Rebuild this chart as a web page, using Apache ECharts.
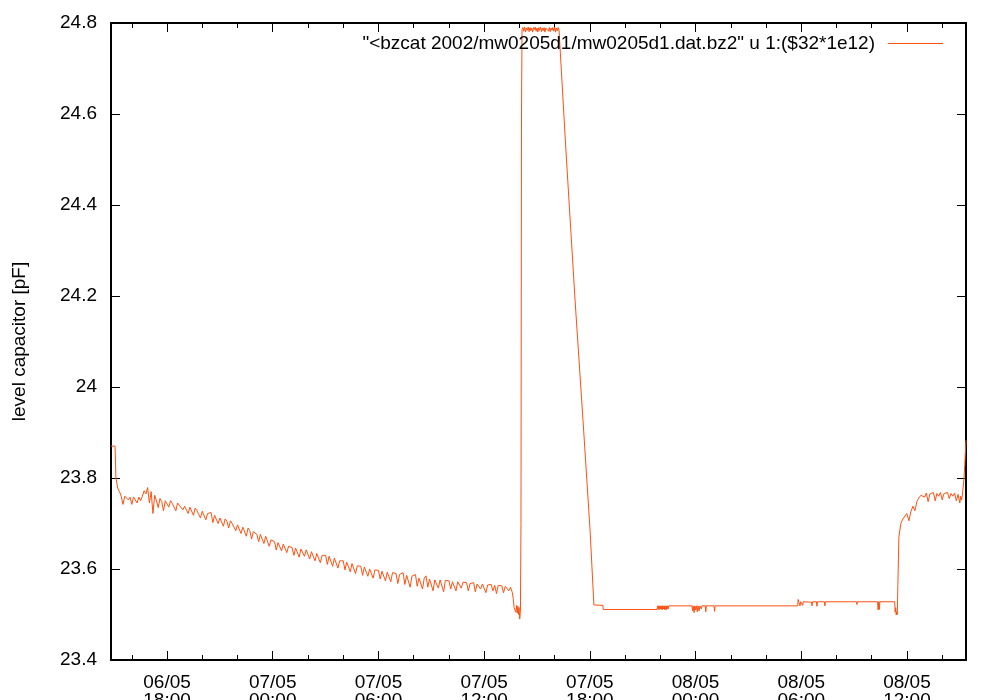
<!DOCTYPE html>
<html><head><meta charset="utf-8">
<script src="https://cdn.jsdelivr.net/npm/echarts@6/dist/echarts.min.js"></script>
<style>html,body{margin:0;padding:0;background:#fff}#c{width:1000px;height:700px}</style>
</head><body><div id="c"></div>
<script>
// ---- data (hours counted from 06/05/2002 00:00, value in pF) ----
const seriesName = '"<bzcat 2002/mw0205d1/mw0205d1.dat.bz2" u 1:($32*1e12)';
const yAxisTitle = 'level capacitor [pF]';
const xRangeHours = [14.82, 63.35];
const majorTickHours = [18, 24, 30, 36, 42, 48, 54, 60];
const minorTickHours = [16, 20, 22, 26, 28, 32, 34, 38, 40, 44, 46, 50, 52, 56, 58, 62];
const yMin = 23.4, yMax = 24.8, yStep = 0.2;

const declineSeg = [
[14.82,23.870],[15.05,23.870],[15.10,23.800],[15.20,23.778],[15.30,23.770],[15.40,23.760],[15.50,23.742],[15.60,23.760],
[15.7,23.758],[15.8,23.752],[15.9,23.758],[16.0,23.742],[16.1,23.758],[16.2,23.756],[16.3,23.745],[16.4,23.758],[16.5,23.750],[16.6,23.760],
[16.7,23.772],[16.8,23.765],[16.9,23.779],[17.0,23.745],[17.1,23.770],[17.2,23.722],[17.3,23.762],[17.4,23.750],[17.5,23.735],[17.6,23.755],
[17.7,23.748],[17.8,23.728],[17.9,23.750],[18.0,23.748],[18.1,23.736],[18.2,23.750],[18.3,23.744],[18.4,23.746],[18.5,23.728],[18.6,23.745],
[18.7,23.740],[18.8,23.744],[18.9,23.730],[19.0,23.738],[19.1,23.740],[19.2,23.722],[19.3,23.736],[19.4,23.732],[19.5,23.718],[19.6,23.734],
[19.7,23.728],[19.8,23.730],[19.9,23.712],[20.0,23.727],[20.1,23.724],[20.2,23.708],[20.3,23.722],[20.4,23.718],[20.5,23.724],[20.6,23.702],
[20.7,23.718],[20.8,23.714],[20.9,23.700],[21.0,23.712],[21.1,23.710],[21.2,23.694],[21.3,23.710],[21.4,23.705],[21.5,23.690],[21.6,23.706],
[21.7,23.700],[21.8,23.702],[21.9,23.684],[22.0,23.697],[22.1,23.694],[22.2,23.678],[22.3,23.692],[22.4,23.688],[22.5,23.672],[22.6,23.690],
[22.7,23.684],[22.8,23.666],[22.9,23.682],[23.0,23.680],[23.1,23.676],[23.2,23.660],[23.3,23.676],[23.4,23.672],[23.5,23.656],[23.6,23.672],
[23.7,23.668],[23.8,23.650],[23.9,23.664],[24.0,23.662],[24.1,23.660],[24.2,23.642],[24.3,23.658],[24.4,23.656],[24.5,23.640],[24.6,23.655],
[24.7,23.652],[24.8,23.636],[24.9,23.650],[25.0,23.650],[25.1,23.647],[25.2,23.630],[25.3,23.646],[25.4,23.644],[25.5,23.626],[25.6,23.644],
[25.7,23.641],[25.8,23.628],[25.9,23.642],[26.0,23.640],[26.1,23.622],[26.2,23.638],[26.3,23.636],[26.4,23.618],[26.5,23.634],[26.6,23.632],
[26.7,23.614],[26.8,23.630],[26.9,23.628],[27.0,23.630],[27.1,23.610],[27.2,23.628],[27.3,23.624],[27.4,23.606],[27.5,23.624],[27.6,23.620],
[27.7,23.602],[27.8,23.618],[27.9,23.616],[28.0,23.618],[28.1,23.598],[28.2,23.615],[28.3,23.612],[28.4,23.594],[28.5,23.612],[28.6,23.608],
[28.7,23.590],[28.8,23.607],[28.9,23.604],[29.0,23.606],[29.1,23.586],[29.2,23.604],[29.3,23.600],[29.4,23.584],[29.5,23.600],[29.6,23.598],
[29.7,23.580],[29.8,23.598],[29.9,23.596],[30.0,23.597],[30.1,23.578],[30.2,23.595],[30.3,23.592],[30.4,23.574],[30.5,23.593],[30.6,23.590],
[30.7,23.572],[30.8,23.592],[30.9,23.588],[31.0,23.590],[31.1,23.568],[31.2,23.588],[31.3,23.584],[31.4,23.592],[31.5,23.566],[31.6,23.586],
[31.7,23.582],[31.8,23.560],[31.9,23.584],[32.0,23.582],[32.1,23.588],[32.2,23.562],[32.3,23.580],[32.4,23.578],[32.5,23.556],[32.6,23.580],
[32.7,23.585],[32.8,23.560],[32.9,23.578],[33.0,23.578],[33.1,23.552],[33.2,23.576],[33.3,23.580],[33.4,23.558],[33.5,23.576],[33.6,23.574],
[33.7,23.550],[33.8,23.575],[33.9,23.574],[34.0,23.574],[34.1,23.556],[34.2,23.572],[34.3,23.574],[34.4,23.552],[34.5,23.572],[34.6,23.570],
[34.7,23.558],[34.8,23.571],[34.9,23.570],[35.0,23.570],[35.1,23.552],[35.2,23.568],[35.3,23.566],[35.4,23.570],[35.5,23.550],[35.6,23.567],
[35.7,23.566],[35.8,23.556],[35.9,23.567],[36.0,23.566],[36.1,23.548],[36.2,23.565],[36.3,23.564],[36.4,23.566],[36.5,23.552],[36.6,23.564],
[36.7,23.546],[36.8,23.564],[36.9,23.563],[37.0,23.563],[37.1,23.548],[37.2,23.562],[37.3,23.566],[37.4,23.552],[37.5,23.560],[37.6,23.548],
[37.65,23.535],[37.70,23.515],[37.75,23.512],[37.80,23.505],[37.85,23.520],[37.88,23.503],[37.92,23.518],[37.95,23.500],[37.98,23.515],
[38.02,23.490],[38.06,23.510]
];
const peakSeg = [
[38.09,23.700],[38.12,24.600],[38.15,24.785],
[38.20,24.790],[38.25,24.782],[38.30,24.791],[38.35,24.780],[38.40,24.789],[38.45,24.784],[38.50,24.791],[38.55,24.781],[38.60,24.790],[38.65,24.783],
[38.70,24.789],[38.75,24.780],[38.80,24.790],[38.85,24.785],[38.90,24.791],[38.95,24.782],[39.00,24.789],[39.05,24.780],[39.10,24.790],[39.15,24.784],
[39.20,24.791],[39.25,24.781],[39.30,24.789],[39.35,24.783],[39.40,24.790],[39.45,24.780],[39.50,24.789],[39.55,24.785],[39.60,24.791],[39.65,24.782],
[39.70,24.790],[39.75,24.781],[39.80,24.789],[39.85,24.784],[39.90,24.790],[39.95,24.782],[40.00,24.791],[40.05,24.780],[40.10,24.789],[40.15,24.783],
[40.20,24.790],[40.25,24.785],[40.30,24.786]
];
const fallSeg = [
[40.64,24.521],[41.16,24.191],[41.61,23.927],[42.01,23.686],[42.23,23.521]
];
const flatSeg = [
[42.74,23.520],[42.76,23.511],[45.81,23.511],
[45.85,23.519],[45.88,23.511],[45.91,23.519],[45.94,23.511],[45.97,23.519],[46.00,23.512],[46.03,23.519],[46.06,23.511],[46.09,23.519],[46.12,23.511],
[46.15,23.519],[46.18,23.512],[46.21,23.519],[46.24,23.511],[46.27,23.519],[46.30,23.511],[46.33,23.519],[46.36,23.511],[46.40,23.519],[46.44,23.512],
[46.48,23.519],[47.80,23.519],[47.83,23.508],[47.86,23.519],[47.92,23.504],[47.95,23.519],[48.00,23.510],[48.04,23.519],[48.10,23.506],[48.14,23.519],
[48.20,23.508],[48.25,23.519],[48.33,23.512],[48.36,23.519],[48.55,23.519],[48.58,23.506],[48.61,23.519],[49.05,23.519],[49.08,23.507],[49.11,23.519],
[53.80,23.519],[53.82,23.533],[53.86,23.527],[53.90,23.527],[53.93,23.519],[53.96,23.528],[54.05,23.528],[54.08,23.520],[54.11,23.528],[54.58,23.527],
[54.61,23.519],[54.64,23.528],[54.86,23.528],[54.89,23.518],[54.92,23.528],[55.31,23.528],[55.34,23.519],[55.37,23.528],[57.13,23.528],[57.16,23.522],
[57.19,23.528],[58.33,23.528],[58.36,23.510],[58.40,23.528],[58.43,23.511],[58.46,23.528],[59.30,23.528],[59.33,23.505],[59.36,23.515],[59.39,23.499],
[59.42,23.506],[59.45,23.500]
];
const riseSeg = [
[59.48,23.560],[59.54,23.670],[59.65,23.700],[59.77,23.710],[59.88,23.712],[59.99,23.722],[60.11,23.706],[60.22,23.726],[60.34,23.738],[60.45,23.728],
[60.56,23.748],[60.67,23.756],[60.79,23.762],[60.90,23.765],[61.00,23.758],[61.10,23.767],[61.20,23.748],[61.30,23.765],[61.40,23.762],[61.50,23.768],
[61.60,23.750],[61.70,23.766],[61.80,23.760],[61.90,23.768],[62.00,23.752],[62.10,23.766],[62.20,23.763],[62.30,23.768],[62.40,23.755],[62.50,23.766],
[62.60,23.760],[62.70,23.767],[62.80,23.750],[62.90,23.764],[63.00,23.745],[63.05,23.760],[63.10,23.752],[63.15,23.765],[63.20,23.768],[63.24,23.800],
[63.28,23.830],[63.35,23.883]
];

// ---- build ----
const seriesData = [].concat(declineSeg, peakSeg, fallSeg, flatSeg, riseSeg);
const FONT = 'Liberation Sans, Arial, Helvetica, sans-serif';
const pad = n => (n < 10 ? '0' : '') + n;
const fmtX = v => {
  const d = new Date(Date.UTC(2002, 4, 6) + Math.round(v * 60) * 60000);
  return pad(d.getUTCDate()) + '/' + pad(d.getUTCMonth() + 1) + '\n' + pad(d.getUTCHours()) + ':' + pad(d.getUTCMinutes());
};
const lineBlack = { show: true, lineStyle: { color: '#000', width: 2 } };

function xAx(pos, ticks, len, withLine, withLabel) {
  return {
    type: 'value', position: pos, min: xRangeHours[0], max: xRangeHours[1],
    axisLine: withLine ? lineBlack : { show: false },
    axisTick: { show: true, inside: true, length: len, customValues: ticks, lineStyle: { color: '#000', width: 1 } },
    axisLabel: withLabel ? { show: true, customValues: majorTickHours, formatter: fmtX, color: '#000', fontFamily: FONT, fontSize: 19, lineHeight: 18, margin: 14, hideOverlap: false } : { show: false },
    splitLine: { show: false }
  };
}

const chart = echarts.init(document.getElementById('c'), null, { renderer: 'canvas' });
chart.setOption({
  animation: false,
  backgroundColor: '#fff',
  grid: { left: 111, right: 34, top: 23, bottom: 40, containLabel: false, outerBoundsMode: 'none' },
  legend: {
    data: [seriesName], right: 52, top: 29, align: 'right', icon: 'rect', itemWidth: 55, itemHeight: 1,
    textStyle: { color: '#000', fontFamily: FONT, fontSize: 19, padding: [0, 8, 0, 0] },
    selectedMode: false
  },
  xAxis: [
    xAx('bottom', majorTickHours, 9, true, true),
    xAx('bottom', minorTickHours, 5, false, false),
    xAx('top', majorTickHours, 9, true, false),
    xAx('top', minorTickHours, 5, false, false)
  ],
  yAxis: [
    { type: 'value', position: 'left', min: yMin, max: yMax, interval: yStep,
      name: yAxisTitle, nameLocation: 'middle', nameGap: 82,
      nameTextStyle: { color: '#000', fontFamily: FONT, fontSize: 19 },
      axisLine: lineBlack,
      axisTick: { show: true, inside: true, length: 9, lineStyle: { color: '#000', width: 1 } },
      axisLabel: { color: '#000', fontFamily: FONT, fontSize: 19, margin: 14 },
      splitLine: { show: false } },
    { type: 'value', position: 'right', min: yMin, max: yMax, interval: yStep,
      axisLine: lineBlack,
      axisTick: { show: true, inside: true, length: 9, lineStyle: { color: '#000', width: 1 } },
      axisLabel: { show: false }, splitLine: { show: false } }
  ],
  series: [{
    name: seriesName, type: 'line', xAxisIndex: 0, yAxisIndex: 0,
    data: seriesData, showSymbol: false, symbol: 'none', sampling: null,
    lineStyle: { color: '#ff5010', width: 1 }, itemStyle: { color: '#ff5010' }
  }]
});
</script></body></html>
